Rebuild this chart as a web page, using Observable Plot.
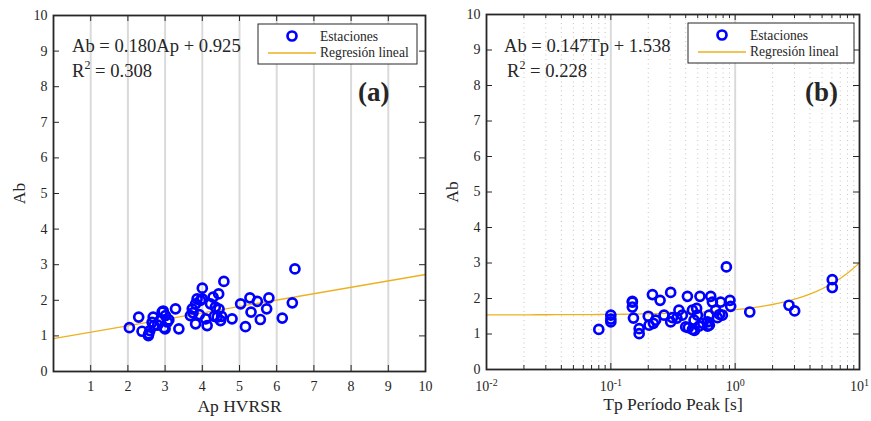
<!DOCTYPE html>
<html><head><meta charset="utf-8">
<script src="https://cdn.jsdelivr.net/npm/d3@7"></script>
<script src="https://cdn.jsdelivr.net/npm/@observablehq/plot@0.6"></script>
<style>
body{margin:0;background:#fff;font-family:"Liberation Serif","Times New Roman",serif}
#wrap{position:relative;width:871px;height:421px;overflow:hidden}
.panel{position:absolute;top:0}
.panel svg, .panel svg text{font-family:"Liberation Serif","Times New Roman",serif !important}
</style></head>
<body><div id="wrap"><div id="pa" class="panel" style="left:0"></div><div id="pb" class="panel" style="left:431px"></div></div>
<script>
// ---- Panel (a): Ap HVRSR vs Ab ----
const apA = [2.04,2.29,2.38,2.55,2.59,2.68,2.70,2.86,2.92,2.97,3.01,3.06,3.28,3.37,3.68,3.73,3.82,3.86,3.82,4.00,4.00,4.09,4.13,4.22,4.29,4.44,4.35,4.40,4.49,4.58,4.80,5.03,5.16,5.28,5.31,5.48,5.56,5.73,5.79,6.15,6.42,6.49,2.65,2.80,3.10,3.75,3.92,4.45,4.52,3.95,4.32,2.95,3.00,2.56];
const abA = [1.23,1.53,1.13,1.01,1.15,1.53,1.29,1.43,1.67,1.23,1.57,1.39,1.76,1.20,1.57,1.76,1.90,2.04,1.34,2.34,2.04,1.48,1.29,1.90,2.09,2.18,1.81,1.53,1.43,2.53,1.48,1.90,1.26,2.07,1.67,1.97,1.46,1.76,2.07,1.50,1.93,2.88,1.38,1.30,1.45,1.65,1.60,1.75,1.55,2.00,1.55,1.70,1.20,1.06];
const slopeA = 0.180, interceptA = 0.925, r2A = "0.308";
const regXA = [0, 10];

// ---- Panel (b): Tp period vs Ab ----
const tpB = [0.080,0.100,0.100,0.100,0.149,0.149,0.152,0.169,0.169,0.216,0.249,0.200,0.203,0.229,0.268,0.303,0.303,0.313,0.353,0.376,0.413,0.400,0.453,0.453,0.467,0.497,0.521,0.512,0.490,0.598,0.617,0.636,0.656,0.697,0.719,0.764,0.789,0.850,0.908,0.920,1.31,2.71,3.01,6.04,6.04,0.600,0.220,0.340,0.420,0.550,0.620,0.750,0.470,0.149];
const abB = [1.13,1.53,1.42,1.34,1.90,1.76,1.45,1.15,1.01,2.11,1.95,1.50,1.25,1.39,1.53,2.17,1.34,1.46,1.67,1.53,2.06,1.20,1.13,1.67,1.39,1.53,2.06,1.22,1.72,1.34,1.53,2.06,1.90,1.67,1.46,1.90,1.53,2.89,1.95,1.78,1.62,1.81,1.65,2.53,2.31,1.22,1.30,1.45,1.18,1.30,1.25,1.55,1.10,1.92];
const slopeB = 0.147, interceptB = 1.538, r2B = "0.228";

// ---- tick labels ----
const yTicks = [0,1,2,3,4,5,6,7,8,9,10];
const xTicksA = [1,2,3,4,5,6,7,8,9,10];
const gridA = [1,2,3,4,5,6,7,8,9];
const decadesB = [0.01, 0.1, 1, 10];
const majorGridB = [0.1, 1];
const minorMult = [2,3,4,5,6,7,8,9];

const BLUE = "#0000ff", ORANGE = "#EDB120", INK = "#262626";
const FONT = '"Liberation Serif","Times New Roman",serif';

const ptsA = apA.map((x,i)=>({x, y: abA[i]}));
const ptsB = tpB.map((x,i)=>({x, y: abB[i]}));
const regA = regXA.map(x=>({x, y: slopeA*x + interceptA}));
const regB = d3.range(0, 61).map(i => 10 ** (-2 + i*0.05)).map(x=>({x, y: slopeB*x + interceptB}));
const minorB = decadesB.slice(0,3).flatMap(d => minorMult.map(m => m*d));

const style = {fontFamily: FONT, fontSize:"14px", color: INK, background:"transparent", overflow:"visible"};

// inward ticks on all four sides, drawn as short rules through the scales
function tickMarks(xt, yt, W, H, len){
  return [
    Plot.ruleX(xt, {stroke:INK, strokeWidth:1, insetTop: H - len}),
    Plot.ruleX(xt, {stroke:INK, strokeWidth:1, insetBottom: H - len}),
    Plot.ruleY(yt, {stroke:INK, strokeWidth:1, insetRight: W - len}),
    Plot.ruleY(yt, {stroke:INK, strokeWidth:1, insetLeft: W - len})
  ];
}

const plotA = Plot.plot({
  width: 440, height: 421, marginLeft: 53, marginRight: 15, marginTop: 15, marginBottom: 50,
  style,
  x: {domain:[0,10]}, y: {domain:[0,10]},
  marks: [
    Plot.ruleX(gridA, {stroke:"#dadada", strokeWidth:2}),
    Plot.line(regA, {x:"x", y:"y", stroke:ORANGE, strokeWidth:1.3}),
    Plot.dot(ptsA, {x:"x", y:"y", r:4.5, stroke:BLUE, strokeWidth:2.7, fill:"none"}),
    ...tickMarks(xTicksA, yTicks, 372, 356, 6),
    Plot.axisX({anchor:"bottom", ticks:xTicksA, tickSize:0, tickPadding:10, label:"Ap HVRSR", labelAnchor:"center", labelArrow:"none", labelOffset:40}),
    Plot.axisY({anchor:"left", ticks:yTicks, tickSize:0, tickPadding:6, label:"Ab", labelAnchor:"center", labelArrow:"none", labelOffset:41}),
    Plot.frame({stroke:INK, strokeWidth:1.8})
  ]
});

const plotB = Plot.plot({
  width: 440, height: 421, marginLeft: 55, marginRight: 12, marginTop: 14, marginBottom: 52,
  style,
  x: {type:"log", domain:[0.01,10]}, y: {domain:[0,10]},
  marks: [
    Plot.ruleX(minorB, {stroke:"#c4c4c4", strokeWidth:1, strokeDasharray:"1,3.5"}),
    Plot.ruleX(majorGridB, {stroke:"#dadada", strokeWidth:2}),
    Plot.line(regB, {x:"x", y:"y", stroke:ORANGE, strokeWidth:1.3}),
    Plot.dot(ptsB, {x:"x", y:"y", r:4.5, stroke:BLUE, strokeWidth:2.7, fill:"none"}),
    ...tickMarks(decadesB, yTicks, 373, 355, 6),
    Plot.ruleX(minorB, {stroke:INK, strokeWidth:1, insetTop: 355 - 4}),
    Plot.ruleX(minorB, {stroke:INK, strokeWidth:1, insetBottom: 355 - 4}),
    Plot.axisX({anchor:"bottom", ticks:decadesB, tickSize:0, tickPadding:12, tickFormat:d=>"10^"+Math.round(Math.log10(d)), label:"Tp Período Peak [s]", labelAnchor:"center", labelArrow:"none", labelOffset:40}),
    Plot.axisY({anchor:"left", ticks:yTicks, tickSize:0, tickPadding:6, label:"Ab", labelAnchor:"center", labelArrow:"none", labelOffset:41}),
    Plot.frame({stroke:INK, strokeWidth:1.8})
  ]
});

document.getElementById("pa").appendChild(plotA);
document.getElementById("pb").appendChild(plotB);

function decorate(svgNode, cfg){
  const svg = d3.select(svgNode);
  svg.selectAll('g[aria-label="x-axis label"] text, g[aria-label="y-axis label"] text').attr("font-size", 17.5);
  svg.selectAll('g[aria-label="x-axis tick label"] text').each(function(){
    const t = this.textContent;
    if (t.includes("^")) {
      const [b, e] = t.split("^");
      const s = d3.select(this); s.text(b);
      s.append("tspan").attr("dy", "-0.55em").attr("font-size", "10px").text(e);
    }
  });
  const g = svg.append("g").attr("font-family", FONT).attr("fill", INK).attr("text-anchor", "start");
  g.append("text").attr("x", cfg.eqX).attr("y", 52).attr("font-size", 18.6).text(cfg.eq);
  const r = g.append("text").attr("x", cfg.r2X).attr("y", 77).attr("font-size", 18.6);
  r.append("tspan").text("R");
  r.append("tspan").attr("dy", -8).attr("font-size", 12).text("2");
  r.append("tspan").attr("dy", 8).text(" = " + cfg.r2);
  g.append("text").attr("x", cfg.tagX).attr("y", 101).attr("font-size", 27).attr("font-weight", "bold").text(cfg.tag);
  const L = cfg.leg;
  g.append("rect").attr("x", L.x).attr("y", L.y).attr("width", L.w).attr("height", 40).attr("fill", "#fff").attr("stroke", INK).attr("stroke-width", 1);
  g.append("circle").attr("cx", L.x + 34).attr("cy", L.y + 12).attr("r", 4.5).attr("fill", "none").attr("stroke", BLUE).attr("stroke-width", 2.7);
  g.append("line").attr("x1", L.x + 10).attr("x2", L.x + 58).attr("y1", L.y + 29).attr("y2", L.y + 29).attr("stroke", ORANGE).attr("stroke-width", 1.5);
  g.append("text").attr("x", L.x + 62).attr("y", L.y + 17).attr("font-size", 13.6).text("Estaciones");
  g.append("text").attr("x", L.x + 62).attr("y", L.y + 33).attr("font-size", 13.6).text("Regresión lineal");
}

decorate(plotA, {eq:"Ab = 0.180Ap + 0.925", eqX:72, r2X:72, r2:r2A, tag:"(a)", tagX:358, leg:{x:258, y:24, w:159}});
decorate(plotB, {eq:"Ab = 0.147Tp + 1.538", eqX:73, r2X:76, r2:r2B, tag:"(b)", tagX:374, leg:{x:257, y:23, w:166}});
</script>
</body></html>
